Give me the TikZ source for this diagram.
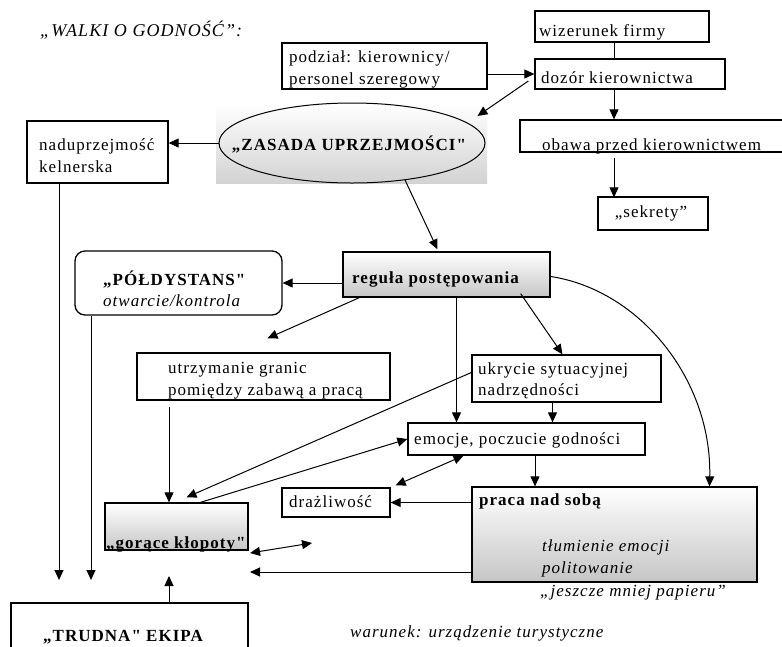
\documentclass[tikz,border=0pt]{standalone}
\usepackage{fontspec}
\setmainfont{Liberation Serif}[LetterSpace=6,Ligatures=TeXOff]
\usetikzlibrary{arrows.meta,shapes.geometric}
\begin{document}
\begin{tikzpicture}[x=1pt,y=-1pt,font=\fontsize{17}{22}\selectfont,
  box/.style={draw,line width=1.3pt,inner sep=0pt,rectangle},
  shd/.style={top color=white,bottom color=gray!45},
  arr/.style={line width=1pt,-{Triangle[length=10pt,width=9pt]}},
  darr/.style={line width=1pt,{Triangle[length=10pt,width=9pt]}-{Triangle[length=10pt,width=9pt]}},
  ln/.style={line width=1pt},
  txt/.style={inner sep=0pt,anchor=base west},
  ctxt/.style={inner sep=0pt,anchor=base}]
\clip (0,0) rectangle (782,646);
\fill[white] (0,0) rectangle (782,646);

% title
\node[txt] (title) at (40,36) {\fontsize{18}{22}\selectfont\itshape „WALKI O GODNOŚĆ”:};

% top right
\node[box,minimum width=205,minimum height=46] (podz) at (384.5,66) {};
\node[txt] (podzT1) at (289,62) {podział: kierownicy/};
\node[txt] (podzT2) at (289,84) {personel szeregowy};
\node[box,minimum width=174,minimum height=31] (wiz) at (622,26.5) {};
\node[txt] (wizT) at (539,36) {wizerunek firmy};
\node[box,minimum width=190,minimum height=30] (doz) at (630,74) {};
\node[txt] (dozT) at (541,83) {dozór kierownictwa};
\node[box,minimum width=280,minimum height=32] (obawa) at (660,136) {};
\node[txt] (obawaT) at (542,150) {obawa przed kierownictwem};
\node[box,minimum width=110,minimum height=33] (sekr) at (653,213.5) {};
\node[ctxt] (sekrT) at (651,217) {„sekrety”};

% ellipse
\shade[top color=white,bottom color=gray!35] (216,104) rectangle (487,183);
\node[ellipse,draw,line width=1pt,minimum width=266,minimum height=80,inner sep=0pt] (ell) at (352,143) {};
\node[ctxt] (ellT) at (349,150) {\bfseries „ZASADA UPRZEJMOŚCI"};

% left
\node[box,minimum width=141,minimum height=62] (nadu) at (97.5,152) {};
\node[txt] (naduT1) at (39,150) {naduprzejmość};
\node[txt] (naduT2) at (39,172) {kelnerska};

% regula
\node[box,shd,minimum width=207,minimum height=45] (regula) at (446.5,274.5) {};
\node[txt] (regulaT) at (352,283) {\bfseries reguła postępowania};

\node[draw,line width=1.3pt,rounded corners=10pt,inner sep=0pt,minimum width=207,minimum height=64] (pol) at (178.5,283) {};
\node[txt] (polT1) at (103,285) {\bfseries „PÓŁDYSTANS"};
\node[txt] (polT2) at (103,306) {\itshape otwarcie/kontrola};

\node[box,minimum width=253,minimum height=47] (utrz) at (263.5,376.5) {};
\node[txt] (utrzT1) at (168,373) {utrzymanie granic};
\node[txt] (utrzT2) at (168,395) {pomiędzy zabawą a pracą};

\node[box,minimum width=189,minimum height=47] (ukr) at (566.5,378.5) {};
\node[txt] (ukrT1) at (478,374) {ukrycie sytuacyjnej};
\node[txt] (ukrT2) at (478,395) {nadrzędności};

\node[box,minimum width=237,minimum height=32] (emo) at (526.5,439) {};
\node[txt] (emoT) at (414,444) {emocje, poczucie godności};

\node[box,minimum width=108,minimum height=29] (draz) at (336,502.5) {};
\node[txt] (drazT) at (289,507) {drażliwość};

\node[box,shd,minimum width=285,minimum height=95] (praca) at (614.5,534.5) {};
\node[txt] (pracaT) at (479,505) {\bfseries praca nad sobą};
\node[txt] (pracaT2) at (542,551) {\itshape tłumienie emocji};
\node[txt] (pracaT3) at (542,573) {\itshape politowanie};
\node[txt] (pracaT4) at (540,596) {\itshape „jeszcze mniej papieru”};

\node[box,shd,minimum width=143,minimum height=47] (gor) at (176.5,526.5) {};
\node[txt] (gorT) at (106,548) {\bfseries „gorące kłopoty"};

\node[box,minimum width=237,minimum height=60] (trud) at (129.5,633) {};
\node[txt] (trudT) at (43,641) {\bfseries „TRUDNA" EKIPA};

\node[txt] (warT) at (350,637) {\itshape warunek: urządzenie turystyczne};

% free ends
\coordinate (nadEnd) at (59,580);
\coordinate (polEnd) at (91,580);
\coordinate (trudTip) at (169,576);
\coordinate (pracaEnd) at (250,572);
\coordinate (dA) at (250,553);
\coordinate (dB) at (312,543);
\coordinate (u2) at (169,407);
\coordinate (r1) at ([xshift=10pt]regula.south);
\coordinate (k1) at ([xshift=-14pt]ukr.south);
\coordinate (e1) at ([xshift=8.5pt]emo.south);
\coordinate (w1) at ([xshift=-8pt]wiz.south);

% connectors
\draw[ln] (w1) -- (w1 |- doz.north);
\draw[arr] (podz.east |- doz.west) -- (doz.west);
\draw[arr] ([xshift=-6pt,yshift=-7pt]doz.west) -- ([xshift=-8pt,yshift=27pt]ell.east);
\draw[arr] ([yshift=2pt]doz.south -| w1) -- (w1 |- obawa.north);
\draw[arr] ([yshift=-5pt]obawa.south -| w1) -- ([yshift=-1pt]w1 |- sekr.north);
\draw[arr] (ell.west) -- (nadu.east |- ell.west);
\draw[arr] (ell.-35) -- ([xshift=-9pt,yshift=2pt]regula.north);
\draw[arr] (regula.west |- pol.east) -- (pol.east);
\draw[arr] ([xshift=17pt]regula.south west) -- ([xshift=4pt,yshift=14pt]utrz.north);
\draw[arr] (r1) -- (r1 |- emo.north);
\draw[arr] ([xshift=-30pt,yshift=4pt]regula.south east) -- ([xshift=-4pt]ukr.north);
\draw[arr] ([yshift=-2pt]regula.east) .. controls (640,290) and (712,380) .. ([xshift=95pt]praca.north);
\draw[arr] (k1) -- (k1 |- emo.north);
\draw[arr] ([yshift=6pt]ukr.west) -- ([xshift=10pt,yshift=5pt]gor.north);
\draw[arr] ([xshift=24pt]gor.north) -- (emo.west);
\draw[darr] ([xshift=-63pt]emo.south) -- ([xshift=5pt,yshift=2pt]draz.north east);
\draw[arr] (e1) -- (e1 |- praca.north);
\draw[arr] (praca.west |- draz.east) -- (draz.east);
\draw[arr] (praca.west |- pracaEnd) -- (pracaEnd);
\draw[darr] (dA) -- (dB);
\draw[arr] (u2) -- (u2 |- gor.north);
\draw[arr] (nadEnd |- nadu.south) -- (nadEnd);
\draw[arr] (polEnd |- pol.south) -- (polEnd);
\draw[arr] (trudTip |- trud.north) -- (trudTip);
\end{tikzpicture}
\end{document}
